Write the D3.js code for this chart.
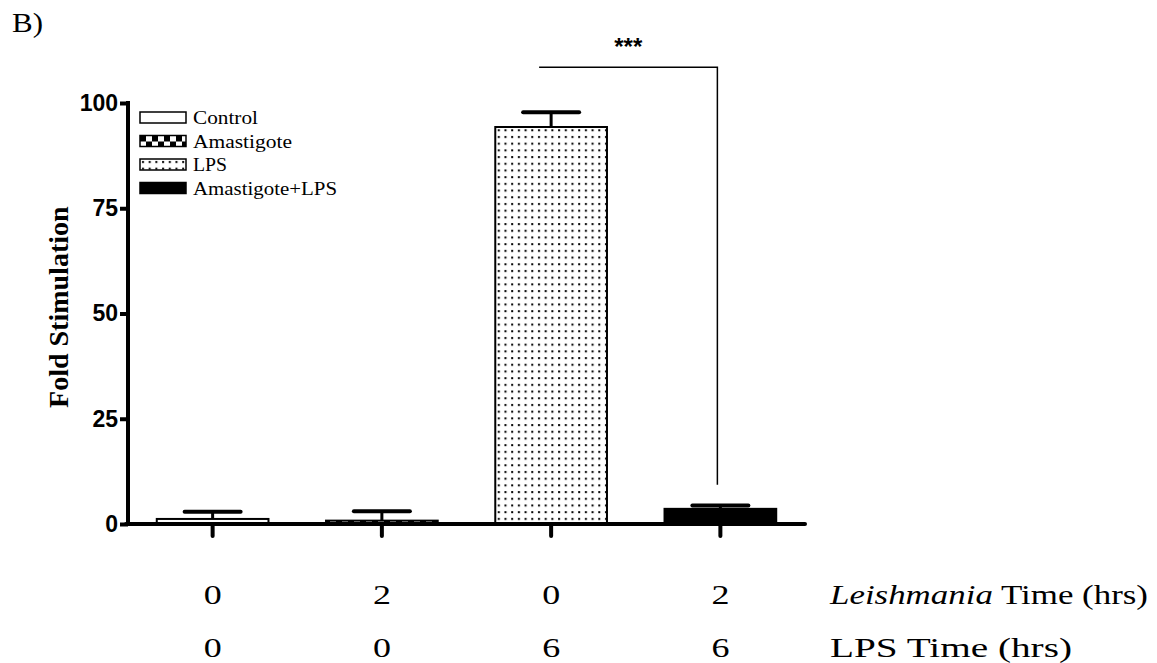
<!DOCTYPE html>
<html>
<head>
<meta charset="utf-8">
<script src="https://cdn.jsdelivr.net/npm/d3@7"></script>
<style>
  body { margin: 0; background: #fff; }
  svg { display: block; }
</style>
</head>
<body>
<div id="chart"></div>
<script>
// data
const groups = ["Control", "Amastigote", "LPS", "Amastigote+LPS"];
const means = [1.2, 0.8, 94.3, 3.6];
const errors = [1.7, 2.2, 3.5, 0.8];
const leishTime = ["0", "2", "0", "2"];
const lpsTime = ["0", "0", "6", "6"];
const yTicks = [0, 25, 50, 75, 100];
// widths of the (stretched) legend labels in the original figure
const legendWidths = [65, 99, 34, 144];

const W = 1157, H = 663;
const serif = "Liberation Serif, Times New Roman, serif";
const sans = "Liberation Sans, Arial, sans-serif";

const svg = d3.select("#chart").append("svg")
  .attr("width", W)
  .attr("height", H);

// fill patterns
const defs = svg.append("defs");
const checker = defs.append("pattern")
  .attr("id", "checker")
  .attr("patternUnits", "userSpaceOnUse")
  .attr("width", 12).attr("height", 12);
checker.append("rect").attr("width", 12).attr("height", 12).attr("fill", "#fff");
checker.append("rect").attr("x", 0).attr("y", 0).attr("width", 6).attr("height", 6).attr("fill", "#000");
checker.append("rect").attr("x", 6).attr("y", 6).attr("width", 6).attr("height", 6).attr("fill", "#000");

const dots = defs.append("pattern")
  .attr("id", "dots")
  .attr("patternUnits", "userSpaceOnUse")
  .attr("width", 6.7).attr("height", 6.7);
dots.append("rect").attr("width", 6.7).attr("height", 6.7).attr("fill", "#fff");
dots.append("rect").attr("x", 2).attr("y", 2).attr("width", 2).attr("height", 2).attr("fill", "#000");

const fills = {
  "Control": "#fff",
  "Amastigote": "url(#checker)",
  "LPS": "url(#dots)",
  "Amastigote+LPS": "#000"
};

// scales
const x = d3.scaleBand()
  .domain(groups)
  .range([128, 805])
  .paddingInner(0.34)
  .paddingOuter(0.17);

const y = d3.scaleLinear()
  .domain([0, 100])
  .range([524, 103]);

// "B)" panel label
svg.append("text")
  .attr("x", 12).attr("y", 32)
  .attr("font-family", serif)
  .attr("font-size", 27)
  .attr("textLength", 31)
  .attr("lengthAdjust", "spacingAndGlyphs")
  .text("B)");

// bars
svg.selectAll(".bar")
  .data(groups)
  .join("rect")
  .attr("class", "bar")
  .attr("x", d => x(d))
  .attr("y", (d, i) => y(means[i]))
  .attr("width", x.bandwidth())
  .attr("height", (d, i) => y(0) - y(means[i]))
  .attr("fill", d => fills[d])
  .attr("stroke", "#000")
  .attr("stroke-width", 2);

// error bars (upper only)
const eb = svg.selectAll(".err")
  .data(groups)
  .join("g")
  .attr("class", "err");
eb.append("line")
  .attr("x1", d => x(d) + x.bandwidth() / 2)
  .attr("x2", d => x(d) + x.bandwidth() / 2)
  .attr("y1", (d, i) => y(means[i]))
  .attr("y2", (d, i) => y(means[i] + errors[i]))
  .attr("stroke", "#000")
  .attr("stroke-width", 3);
eb.append("line")
  .attr("x1", d => x(d) + x.bandwidth() / 2 - 28)
  .attr("x2", d => x(d) + x.bandwidth() / 2 + 28)
  .attr("y1", (d, i) => y(means[i] + errors[i]))
  .attr("y2", (d, i) => y(means[i] + errors[i]))
  .attr("stroke", "#000")
  .attr("stroke-width", 4)
  .attr("stroke-linecap", "round");

// y axis
const yAxis = svg.append("g")
  .attr("transform", "translate(128,0)")
  .call(d3.axisLeft(y).tickValues(yTicks).tickSize(8).tickPadding(2).tickSizeOuter(0));
yAxis.select(".domain").remove();
yAxis.selectAll(".tick line").attr("stroke-width", 4);
yAxis.selectAll("text")
  .attr("font-family", sans)
  .attr("font-weight", "bold")
  .attr("font-size", 23)
  .attr("fill", "#000");
svg.append("line")
  .attr("x1", 128).attr("x2", 128)
  .attr("y1", y(100) - 2).attr("y2", y(0))
  .attr("stroke", "#000").attr("stroke-width", 4);

// x axis
const xAxis = svg.append("g")
  .attr("transform", `translate(0,${y(0)})`)
  .call(d3.axisBottom(x).tickSize(12).tickSizeOuter(0).tickFormat(""));
xAxis.select(".domain").remove();
xAxis.selectAll(".tick line").attr("stroke-width", 4).attr("stroke-linecap", "round");
svg.append("line")
  .attr("x1", 126).attr("x2", 805)
  .attr("y1", y(0)).attr("y2", y(0))
  .attr("stroke", "#000").attr("stroke-width", 4).attr("stroke-linecap", "round");

// y axis title
svg.append("text")
  .attr("transform", `translate(68,${y(51.5)}) rotate(-90)`)
  .attr("text-anchor", "middle")
  .attr("font-family", serif)
  .attr("font-weight", "bold")
  .attr("font-size", 28)
  .text("Fold Stimulation");

// significance bracket
const bx1 = x("LPS") + x.bandwidth() / 2 - 12;
const bx2 = x("Amastigote+LPS") + x.bandwidth() / 2 - 3;
svg.append("path")
  .attr("d", `M${bx1},${y(108.5)} H${bx2} V${y(9.3)}`)
  .attr("fill", "none")
  .attr("stroke", "#000")
  .attr("stroke-width", 1.5);
svg.append("text")
  .attr("x", (bx1 + bx2) / 2)
  .attr("y", y(108.5) - 12)
  .attr("text-anchor", "middle")
  .attr("font-family", sans)
  .attr("font-weight", "bold")
  .attr("font-size", 24)
  .text("***");

// legend
const leg = svg.append("g").attr("transform", "translate(140,112)");
const legRow = leg.selectAll("g")
  .data(groups)
  .join("g")
  .attr("transform", (d, i) => `translate(0,${i * 23.5})`);
legRow.append("rect")
  .attr("width", 46).attr("height", 11)
  .attr("fill", d => fills[d])
  .attr("stroke", "#000")
  .attr("stroke-width", 1.5);
legRow.append("text")
  .attr("x", 53).attr("y", 12)
  .attr("font-family", serif)
  .attr("font-size", 19)
  .attr("textLength", (d, i) => legendWidths[i])
  .attr("lengthAdjust", "spacingAndGlyphs")
  .text(d => d);

// condition rows under the axis
svg.selectAll(".lt")
  .data(leishTime)
  .join("text")
  .attr("class", "lt")
  .attr("x", (d, i) => x(groups[i]) + x.bandwidth() / 2)
  .attr("y", 604)
  .attr("text-anchor", "middle")
  .attr("font-family", serif)
  .attr("font-size", 27)
  .attr("textLength", 18)
  .attr("lengthAdjust", "spacingAndGlyphs")
  .text(d => d);
svg.selectAll(".pt")
  .data(lpsTime)
  .join("text")
  .attr("class", "pt")
  .attr("x", (d, i) => x(groups[i]) + x.bandwidth() / 2)
  .attr("y", 657)
  .attr("text-anchor", "middle")
  .attr("font-family", serif)
  .attr("font-size", 27)
  .attr("textLength", 18)
  .attr("lengthAdjust", "spacingAndGlyphs")
  .text(d => d);

const lab1 = svg.append("text")
  .attr("x", 830).attr("y", 604)
  .attr("font-family", serif)
  .attr("font-size", 27)
  .attr("textLength", 318)
  .attr("lengthAdjust", "spacingAndGlyphs");
lab1.append("tspan").attr("font-style", "italic").text("Leishmania");
lab1.append("tspan").text(" Time (hrs)");

svg.append("text")
  .attr("x", 830).attr("y", 657)
  .attr("font-family", serif)
  .attr("font-size", 27)
  .attr("textLength", 242)
  .attr("lengthAdjust", "spacingAndGlyphs")
  .text("LPS Time (hrs)");
</script>
</body>
</html>
